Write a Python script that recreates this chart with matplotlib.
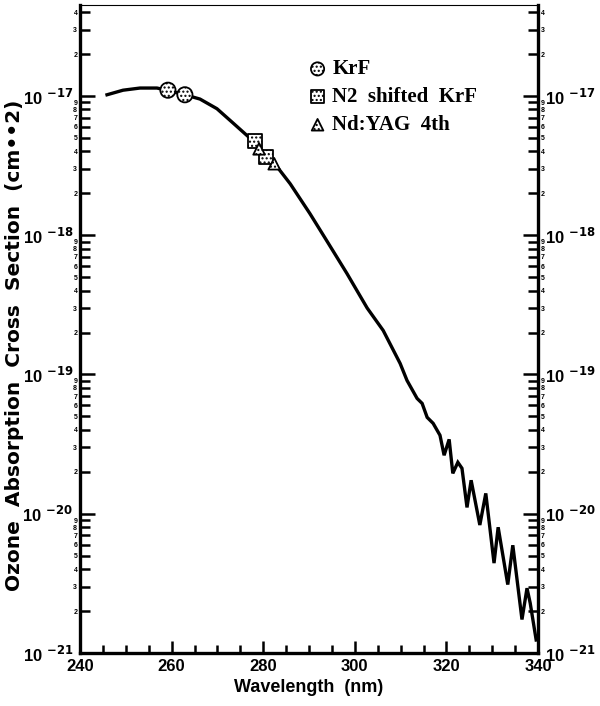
import math
import matplotlib
matplotlib.use("Agg")
import matplotlib.pyplot as plt
import matplotlib.ticker as mticker

# ---- data ----
wavelength = [245.9, 249.4, 253.1, 256.8, 259.0, 262.9, 266.2, 269.9, 273.4, 277.8,
              280.8, 283.2, 285.9, 290.2, 293.9, 298.3, 302.7, 306.2, 309.9, 311.4,
              313.6, 314.7, 315.8, 317.1, 318.6, 319.5, 320.6, 321.4, 322.5, 323.4,
              324.5, 325.4, 327.3, 328.6, 330.4, 331.3, 333.4, 334.5, 336.5, 337.6,
              338.3, 339.6]
cross_section = [1.02e-17, 1.10e-17, 1.14e-17, 1.14e-17, 1.10e-17, 1.02e-17, 9.5e-18, 8.1e-18,
                 6.4e-18, 4.75e-18, 3.7e-18, 3.05e-18, 2.34e-18, 1.43e-18, 9.1e-19, 5.3e-19,
                 3.0e-19, 2.07e-19, 1.2e-19, 9.06e-20, 6.73e-20, 6.2e-20, 4.92e-20, 4.46e-20,
                 3.66e-20, 2.63e-20, 3.42e-20, 1.95e-20, 2.34e-20, 2.12e-20, 1.11e-20, 1.74e-20,
                 8.3e-21, 1.40e-20, 4.42e-21, 8.0e-21, 3.1e-21, 5.94e-21, 1.74e-21, 2.92e-21,
                 2.28e-21, 1.24e-21]

krf_wl = [259.2, 262.9]
krf_cs = [1.10e-17, 1.02e-17]
n2_wl = [278.2, 280.6]
n2_cs = [4.76e-18, 3.65e-18]
yag_wl = [279.1, 282.4]
yag_cs = [4.17e-18, 3.26e-18]

legend_labels = ["KrF", "N2  shifted  KrF", "Nd:YAG  4th"]
x_major = [240, 260, 280, 300, 320, 340]
y_decades = [-21, -20, -19, -18, -17]
y_minor_digits = [2, 3, 4, 5, 6, 7, 8, 9]
y_top_digits = [2, 3, 4]
x_label = "Wavelength  (nm)"
y_label = "Ozone  Absorption  Cross  Section  (cm\u2022\u20222)"

plt.rcParams['hatch.linewidth'] = 1.0
narrow = ['Liberation Sans Narrow', 'Liberation Sans', 'DejaVu Sans']
wide = ['DejaVu Sans']

fig = plt.figure(figsize=(6.0, 7.06), dpi=100)
ax = fig.add_axes([80/600, 53/706, 458/600, 648/706])

ax.plot(wavelength, cross_section, color='black', lw=2.4, solid_joinstyle='miter', zorder=2)

mk = dict(facecolor='white', edgecolor='black', linewidths=1.3, hatch='....')
ax.scatter(krf_wl, krf_cs, marker='o', s=120, zorder=3, **mk)
ax.scatter(n2_wl, n2_cs, marker='s', s=105, zorder=3, **mk)
ax.scatter(yag_wl, yag_cs, marker='^', s=70, zorder=4, **mk)

ax.set_yscale('log')
ax.set_xlim(240, 340)
ax.set_ylim(1e-21, 4.5e-17)

ax.set_xticks(x_major)
ax.xaxis.set_minor_locator(mticker.MultipleLocator(5))
ax.set_xticklabels([str(v) for v in x_major], fontfamily=narrow, fontweight='bold', fontsize=12)

major_vals = [10.0 ** e for e in y_decades]
minor_vals = [d * 10.0 ** e for e in y_decades[:-1] for d in y_minor_digits]
minor_vals += [d * 10.0 ** y_decades[-1] for d in y_top_digits]
ax.yaxis.set_major_locator(mticker.FixedLocator(major_vals))
ax.yaxis.set_minor_locator(mticker.FixedLocator(minor_vals))

def major_fmt(v, pos):
    e = int(round(math.log10(v)))
    return r'10 $^{\mathbf{%d}}$' % e

def minor_fmt(v, pos):
    m = v / 10 ** math.floor(math.log10(v) + 1e-9)
    return str(int(round(m)))

ax.yaxis.set_major_formatter(mticker.FuncFormatter(major_fmt))
ax.yaxis.set_minor_formatter(mticker.FuncFormatter(minor_fmt))

ax.tick_params(axis='y', which='both', left=True, right=True, labelleft=True, labelright=True,
               direction='in', width=1.8)
ax.tick_params(axis='y', which='major', length=11, pad=5, labelsize=12)
ax.tick_params(axis='y', which='minor', length=7, pad=2, labelsize=5)
ax.tick_params(axis='x', which='both', bottom=True, top=False, direction='in', width=1.8)
ax.tick_params(axis='x', which='major', length=9, pad=4)
ax.tick_params(axis='x', which='minor', length=6)

for lab in ax.get_yticklabels(which='both'):
    lab.set_fontweight('bold')
    lab.set_fontfamily(narrow)

for side in ['left', 'right', 'bottom']:
    ax.spines[side].set_linewidth(2.4)
ax.spines['top'].set_linewidth(0.8)

ax.set_xlabel(x_label, fontfamily=narrow, fontweight='bold', fontsize=13, labelpad=4)
ax.set_ylabel(y_label, fontfamily=wide, fontweight='bold', fontsize=14.5, labelpad=0)
ax.yaxis.set_label_coords(-0.122, 0.475)

handles = [
    ax.scatter([], [], marker='o', s=90, **mk),
    ax.scatter([], [], marker='s', s=90, **mk),
    ax.scatter([], [], marker='^', s=70, **mk),
]
leg = ax.legend(handles, legend_labels, loc='upper left', bbox_to_anchor=(0.455, 0.945),
                frameon=False, handletextpad=0.2, labelspacing=0.38, handlelength=1.0,
                prop={'family': ['Liberation Serif', 'DejaVu Serif'], 'weight': 'bold', 'size': 15})

fig.savefig('out.png', dpi=100)
